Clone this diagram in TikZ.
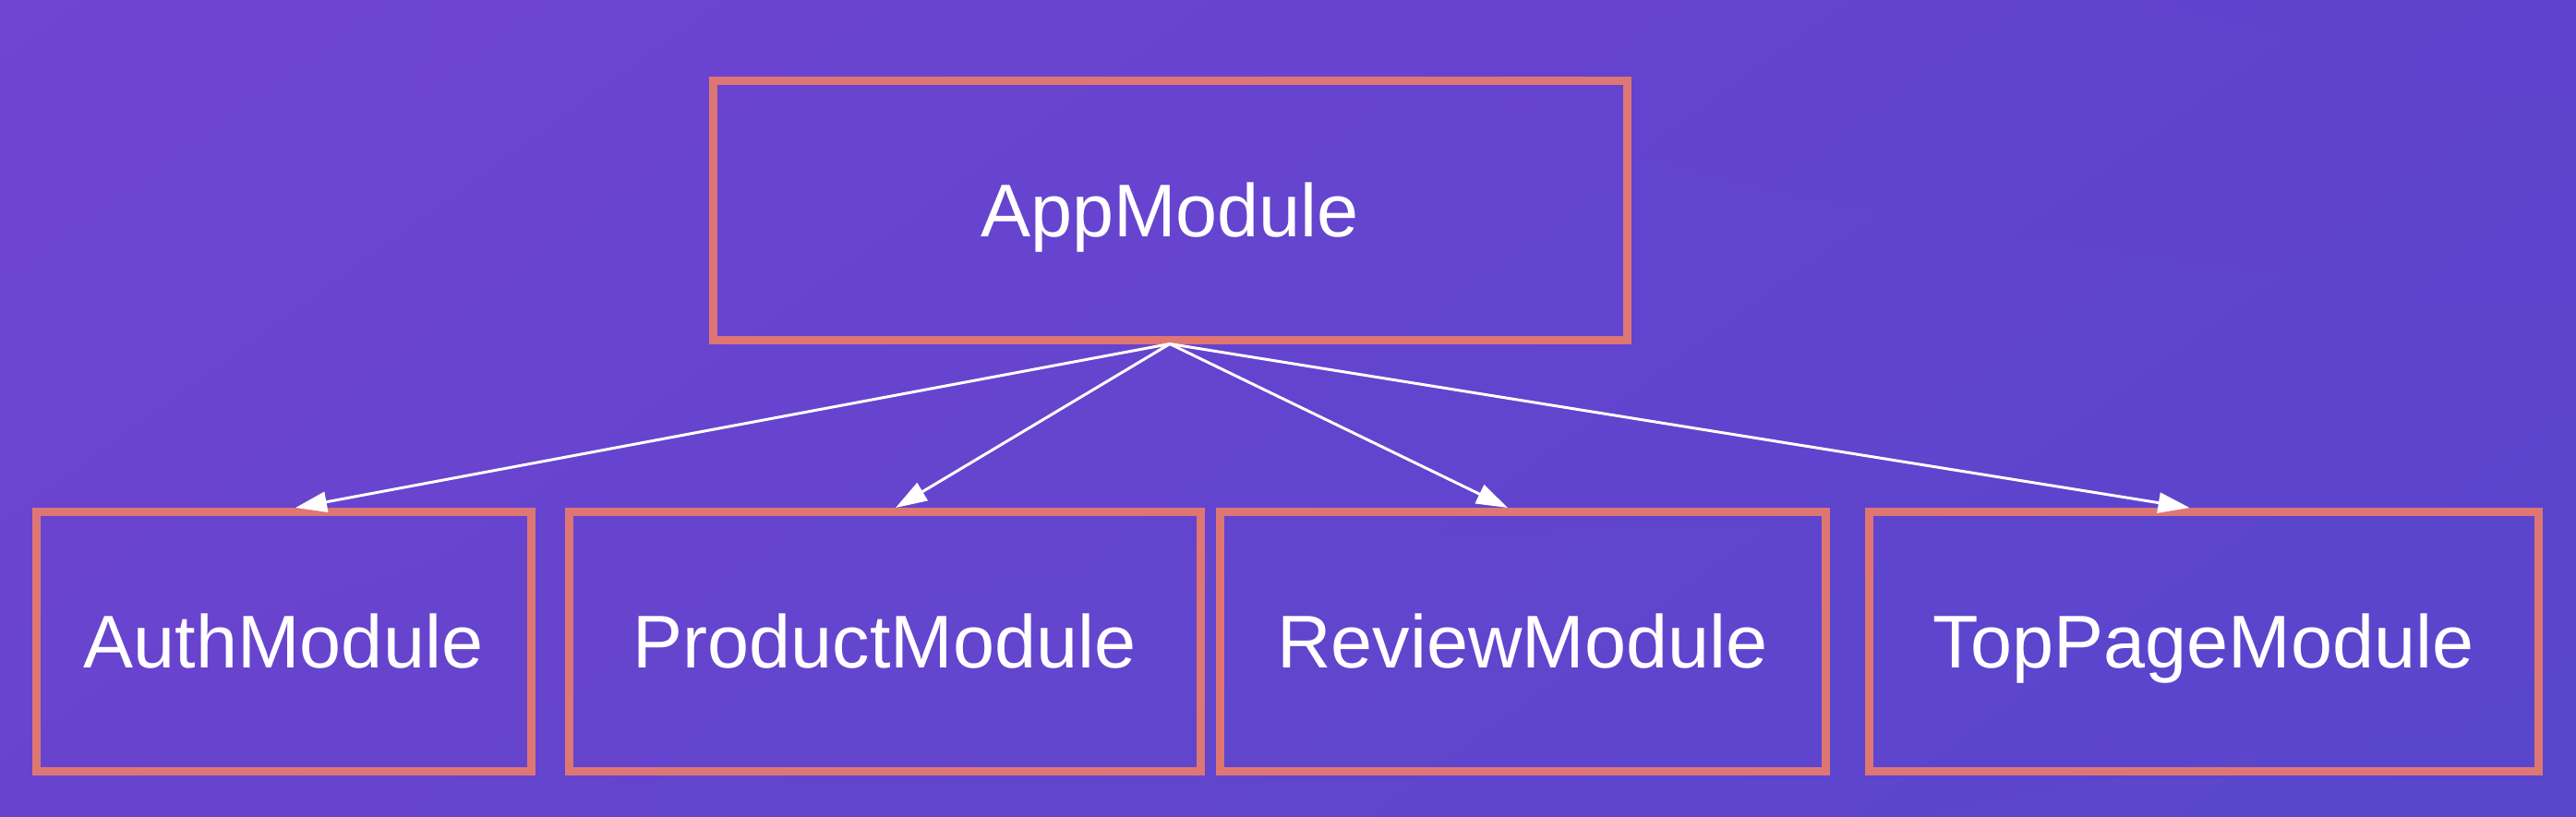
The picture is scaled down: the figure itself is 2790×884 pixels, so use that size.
\documentclass[tikz,border=0pt]{standalone}
\usepackage{fontspec}
\setmainfont{Liberation Sans}
\usetikzlibrary{positioning,arrows.meta,shadings}
\definecolor{bgul}{RGB}{111,69,209}
\definecolor{bgur}{RGB}{95,66,205}
\definecolor{bgll}{RGB}{104,68,206}
\definecolor{bglr}{RGB}{88,70,204}
\definecolor{rim}{RGB}{222,118,116}

\begin{document}
\begin{tikzpicture}[x=1pt, y=-1pt,
	module/.style={draw=rim, line width=9pt, text=white,
		font=\fontsize{81}{96}\selectfont, minimum height=281pt,
		text height=57pt, text depth=0pt},
	dep/.style={color=white, line width=3pt, -{Triangle[length=34pt,width=22pt]}}]
	% Background
	\shade[upper left=bgul, upper right=bgur, lower left=bgll, lower right=bglr]
		(0,0) rectangle (2790,884);
	% Draw the modules
	\node[module, minimum width=990pt]                  (app)     at (1267,227.5) {AppModule};
	\node[module, minimum width=536pt]                  (auth)    at (307,695)    {AuthModule};
	\node[module, minimum width=684pt, right=32pt of auth]    (product) {ProductModule};
	\node[module, minimum width=656pt, right=12pt of product] (review)  {ReviewModule};
	\node[module, minimum width=725pt, right=38pt of review]  (toppage) {TopPageModule};
	% Connect the root to the others
	\path
		(app.south) edge[dep] ([xshift=13pt]auth.north)
		(app.south) edge[dep] ([xshift=12pt]product.north)
		(app.south) edge[dep] ([xshift=-16pt]review.north)
		(app.south) edge[dep] ([xshift=-15pt]toppage.north);
\end{tikzpicture}
\end{document}
